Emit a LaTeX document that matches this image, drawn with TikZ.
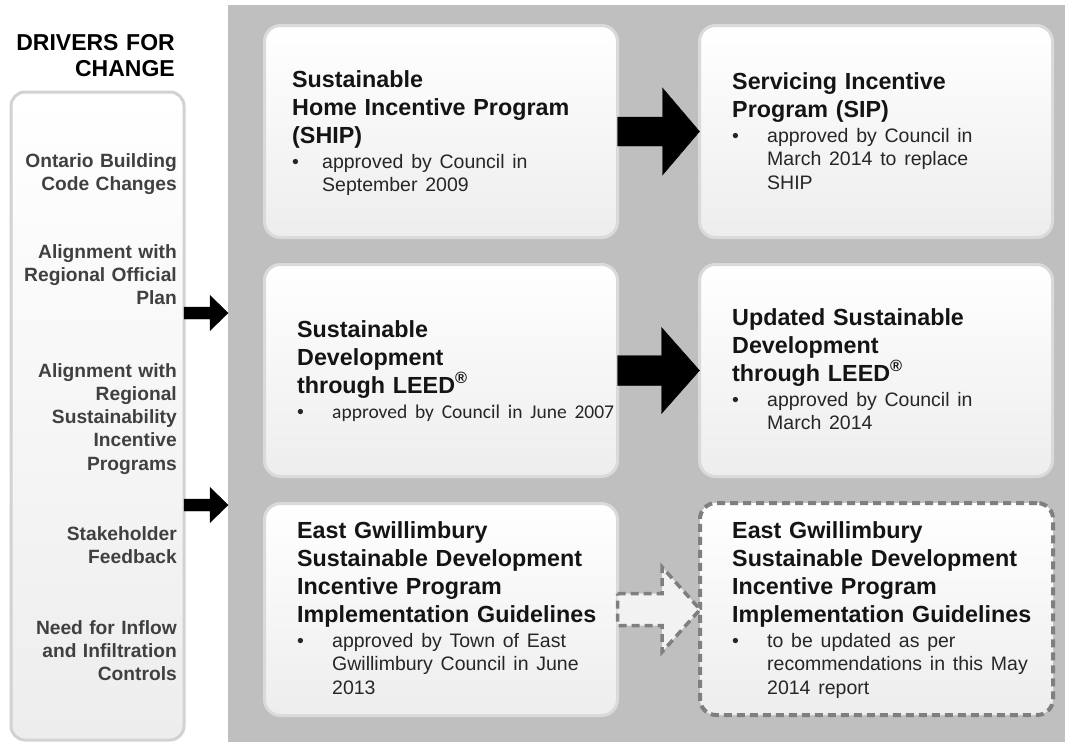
\documentclass[tikz,border=0pt]{standalone}
\usepackage{fontspec}
\setmainfont{Liberation Sans}
\newfontfamily\calibrifont{Carlito}
\usetikzlibrary{calc}

\definecolor{panelgray}{HTML}{BFBFBF}
\definecolor{cardedge}{HTML}{DADADA}
\definecolor{cardbottom}{HTML}{EDEDED}
\definecolor{driveredge}{HTML}{D2D2D2}
\definecolor{drivertext}{HTML}{404040}
\definecolor{dashgray}{HTML}{7F7F7F}
\definecolor{dashfill}{HTML}{F2F2F2}
\definecolor{titleblack}{HTML}{141414}
\definecolor{bodyblack}{HTML}{262626}

\newcommand{\titlefont}{\fontsize{23.3}{28}\selectfont\bfseries}
\newcommand{\bodyfont}{\fontsize{19.5}{23.5}\selectfont\mdseries}
\newcommand{\driverfont}{\fontsize{19.2}{23.3}\selectfont\bfseries}

% bullet line with hanging indent
\newcommand{\bpoint}[2][35pt]{\par\vskip1.5pt\bodyfont\raggedright
  \hangindent=#1\hangafter=0
  \noindent\color{bodyblack}\llap{\makebox[#1][l]{\textbullet}}#2\par}

% block arrow: style, from, to, half shaft, half head, head length
\newcommand{\fatarrow}[6][]{%
  \draw[#1] let \p1=(#2), \p2=(#3) in
    (\x1,\y1+#4) -- (\x2-#6,\y1+#4) -- (\x2-#6,\y1+#5) -- (\x2,\y1)
    -- (\x2-#6,\y1-#5) -- (\x2-#6,\y1-#4) -- (\x1,\y1-#4) -- cycle;}

\begin{document}
\begin{tikzpicture}[x=1pt, y=-1pt,
    card/.style={draw=cardedge, line width=3pt, rounded corners=16pt,
                 top color=white, bottom color=cardbottom, outer sep=0pt,
                 minimum width=353pt, minimum height=212pt, inner sep=0pt},
    cardtext/.style={text width=330pt, align=left, inner sep=0pt,
                     font=\titlefont, text=titleblack, anchor=base west},
    drivertxt/.style={text width=165pt, align=right, inner sep=0pt,
                      font=\driverfont, text=drivertext, anchor=base east},
    solidarrow/.style={fill=black},
    ghostarrow/.style={draw=dashgray, fill=dashfill, line width=3.5pt,
                       dash pattern=on 8pt off 5pt},
  ]
  \useasboundingbox (0,0) rectangle (1065,742);

  % grey field behind the programmes
  \node[fill=panelgray, minimum width=837pt, minimum height=737pt,
        inner sep=0pt, outer sep=0pt] (programs) at (646.5,373.5) {};

  % drivers column
  \node[draw=driveredge, line width=3pt, rounded corners=14pt,
        top color=white, bottom color=cardbottom, outer sep=0pt,
        minimum width=173pt, minimum height=648pt] (drivers) at (97.5,416) {};
  \node[text width=170pt, align=right, inner sep=0pt, anchor=base east,
        font=\fontsize{23}{26}\selectfont\bfseries] (head) at (175,50)
    {DRIVERS FOR\\ CHANGE};

  \node[drivertxt] (obc) at (177,167) {Ontario Building\\ Code Changes};
  \node[drivertxt] (rop) at (177,258) {Alignment with\\ Regional Official\\ Plan};
  \node[drivertxt] (rsip) at (177,377)
    {Alignment with\\ Regional\\ Sustainability\\ Incentive\\ Programs};
  \node[drivertxt] (stake) at (177,540) {Stakeholder\\ Feedback};
  \node[drivertxt] (inflow) at (177,634)
    {Need for Inflow\\ and Infiltration\\ Controls};

  \coordinate (into1) at (drivers.east |- 0,313);
  \coordinate (into2) at (drivers.east |- 0,505);
  \fatarrow[solidarrow]{into1}{programs.west}{6pt}{17.5pt}{18pt}
  \fatarrow[solidarrow]{into2}{programs.west}{6pt}{17.5pt}{18pt}

  % programme cards
  \node[card] (ship)     at (441,131.5) {};
  \node[card] (sip)      at (876,131.5) {};
  \node[card] (leed)     at (441,370.5) {};
  \node[card] (leed2)    at (876,370.5) {};
  \node[card] (egguide)  at (441,609.5) {};
  \node[card, draw=dashgray, line width=4pt, dash pattern=on 8pt off 5pt]
    (egupdate) at (876.5,609) {};

  \fatarrow[solidarrow]{ship.east}{sip.west}{14.5pt}{43.5pt}{37pt}
  \fatarrow[solidarrow]{leed.east}{leed2.west}{15pt}{43pt}{38pt}
  \fatarrow[ghostarrow]{egguide.east}{egupdate.west}{16pt}{42.5pt}{38pt}

  \node[cardtext] (shiptxt) at (292,87)
    {Sustainable\\ Home Incentive Program\\ (SHIP)
     \bpoint[30pt]{approved by Council in\newline September 2009}};
  \node[cardtext] (siptxt) at (732,89)
    {Servicing Incentive\\ Program (SIP)
     \bpoint{approved by Council in\newline March 2014 to replace\newline SHIP}};
  \node[cardtext] (leedtxt) at (297,337)
    {Sustainable\\ Development\\ through LEED\textsuperscript{\textregistered}
     \bpoint{\calibrifont approved by Council in June 2007}};
  \node[cardtext] (leed2txt) at (732,325)
    {Updated Sustainable\\ Development\\ through LEED\textsuperscript{\textregistered}
     \bpoint{approved by Council in\newline March 2014}};
  \node[cardtext] (egguidetxt) at (297,538)
    {East Gwillimbury\\ Sustainable Development\\ Incentive Program\\
     Implementation Guidelines
     \bpoint{approved by Town of East\newline Gwillimbury Council in June\newline 2013}};
  \node[cardtext] (egupdatetxt) at (732,538)
    {East Gwillimbury\\ Sustainable Development\\ Incentive Program\\
     Implementation Guidelines
     \bpoint{to be updated as per\newline recommendations in this May\newline 2014 report}};
\end{tikzpicture}
\end{document}
